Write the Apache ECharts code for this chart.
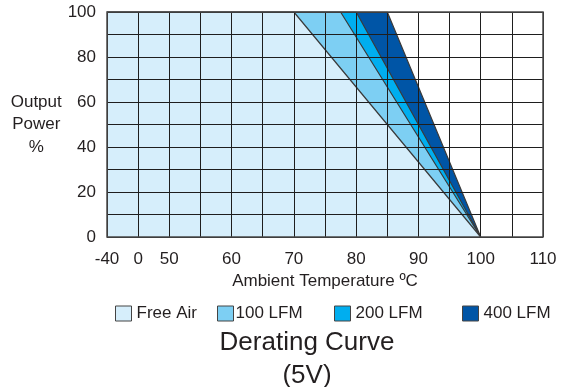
<!DOCTYPE html>
<html>
<head>
<meta charset="utf-8">
<script src="https://cdn.jsdelivr.net/npm/echarts@6/dist/echarts.min.js"></script>
<style>
  html, body { margin: 0; padding: 0; background: #fff; }
  #chart { width: 569px; height: 387px; }
</style>
</head>
<body>
<div id="chart"></div>
<script>
  // tick labels of the (non linear) temperature axis, one per grid column
  var xTickLabels = ['-40', '0', '50', '', '60', '', '70', '', '80', '', '90', '', '100', '', '110'];
  var yTicks = [0, 20, 40, 60, 80, 100];

  // derating curves: [temperature ºC, output power %]
  var freeAir = [[-40, 100], [70, 100], [100, 0]];
  var lfm100 = [[-40, 100], [77.5, 100], [100, 0]];
  var lfm200 = [[-40, 100], [80, 100], [100, 0]];
  var lfm400 = [[-40, 100], [85, 100], [100, 0]];

  var names = ['Free Air', '100 LFM', '200 LFM', '400 LFM'];
  var colors = ['#d6eefb', '#7dcff3', '#00aeef', '#0055a6'];

  // the axis is drawn in grid columns: -40 | 0 | 50..110 in 5 degree steps
  function pos(t) {
    if (t <= 0) return (t + 40) / 40;
    if (t <= 50) return 1 + t / 50;
    return t / 5 - 8;
  }
  function toAxis(curve) {
    return curve.map(function (p) { return [pos(p[0]), p[1]]; });
  }

  var myChart = echarts.init(document.getElementById('chart'));
  var font = 'Liberation Sans, Arial, sans-serif';

  function mkSeries(i, curve) {
    return {
      name: names[i],
      type: 'line',
      data: toAxis(curve),
      symbol: 'none',
      z: 1,
      lineStyle: { color: '#3a3a3a', width: 1.2 },
      itemStyle: { color: colors[i] },
      areaStyle: { color: colors[i], opacity: 1 }
    };
  }

  var legendLeft = [115, 217, 334, 462];
  var legends = names.map(function (n, i) {
    return {
      left: legendLeft[i],
      top: 305,
      padding: 0,
      itemWidth: 16,
      itemHeight: 15,
      itemGap: 0,
      selectedMode: false,
      textStyle: { fontFamily: font, fontSize: 17, color: '#231f20', padding: [0, 0, 0, i === 1 ? -3 : 0] },
      data: [{ name: n, icon: 'rect', itemStyle: { color: colors[i], borderColor: '#444', borderWidth: 1 } }]
    };
  });

  var option = {
    animation: false,
    backgroundColor: '#fff',
    title: {
      text: 'Derating Curve\n(5V)',
      left: 302,
      top: 321,
      textAlign: 'center',
      textStyle: { fontFamily: font, fontSize: 26, fontWeight: 'normal', color: '#231f20', lineHeight: 33 }
    },
    legend: legends,
    grid: { left: 107, right: 26, top: 12, bottom: 150, show: true, borderColor: '#4a4a4a', borderWidth: 1.5, z: 4 },
    xAxis: {
      type: 'value',
      min: 0,
      max: 14,
      interval: 1,
      z: 3,
      name: 'Ambient Temperature ºC',
      nameLocation: 'middle',
      nameGap: 35,
      nameTextStyle: { fontFamily: font, fontSize: 17, color: '#231f20' },
      axisLine: { show: false },
      axisTick: { show: false },
      axisLabel: {
        fontFamily: font, fontSize: 17, color: '#231f20', margin: 14,
        formatter: function (v) { return xTickLabels[Math.round(v)]; }
      },
      splitLine: { show: true, lineStyle: { color: '#1e1e1e', width: 1 } }
    },
    yAxis: {
      type: 'value',
      min: 0,
      max: 100,
      interval: 10,
      z: 3,
      name: 'Output\nPower\n%',
      nameLocation: 'middle',
      nameRotate: 0,
      nameGap: 68,
      nameTextStyle: { fontFamily: font, fontSize: 17, color: '#231f20', lineHeight: 22.5, align: 'center', padding: [4, 0, 0, 0] },
      axisLine: { show: false },
      axisTick: { show: false },
      axisLabel: {
        fontFamily: font, fontSize: 17, color: '#231f20', margin: 11, padding: [11, 0, 0, 0],
        formatter: function (v) { return yTicks.indexOf(v) >= 0 ? String(v) : ''; }
      },
      splitLine: { show: true, lineStyle: { color: '#1e1e1e', width: 1 } }
    },
    series: [
      mkSeries(3, lfm400),
      mkSeries(2, lfm200),
      mkSeries(1, lfm100),
      mkSeries(0, freeAir)
    ]
  };
  option && myChart.setOption(option);
</script>
</body>
</html>
